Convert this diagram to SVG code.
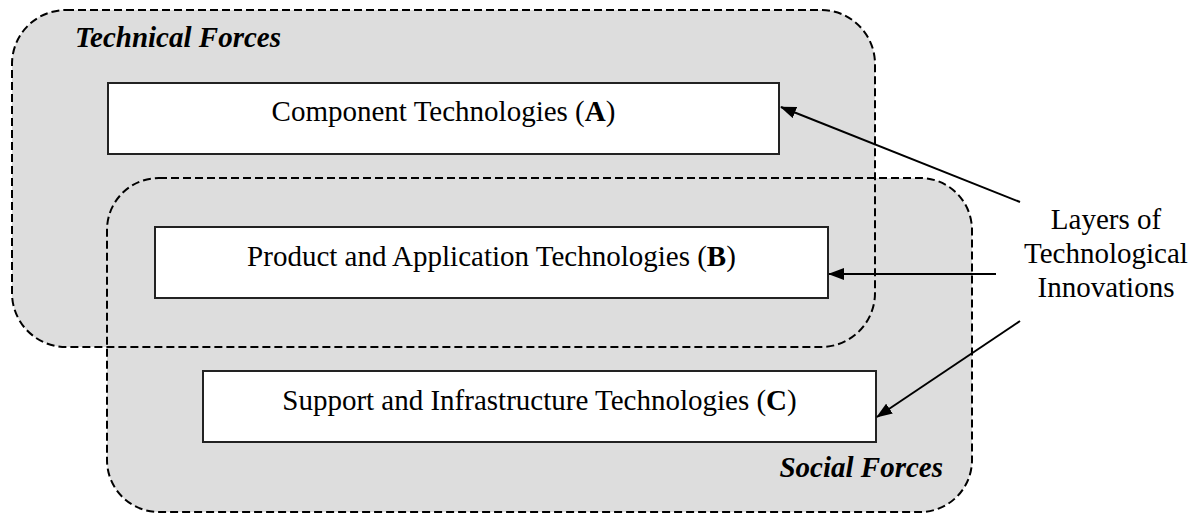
<svg xmlns="http://www.w3.org/2000/svg" width="1195" height="513" viewBox="0 0 1195 513">
<style>
.region{fill:#dddddd;stroke:none}
.border{fill:none;stroke:#000;stroke-width:2;stroke-dasharray:8 4}
.box{fill:#fff;stroke:#222;stroke-width:2}
.t{font-family:"Liberation Serif","Times New Roman",serif;font-size:29px;fill:#000}
.lbl{font-family:"Liberation Serif","Times New Roman",serif;font-size:29px;font-weight:bold;font-style:italic;fill:#000}
.conn{stroke:#000;stroke-width:2;fill:none}
</style>
<defs>
<marker id="ah" markerWidth="16" markerHeight="12" refX="15" refY="6" orient="auto" markerUnits="userSpaceOnUse">
<path d="M0,0 L16,6 L0,12 Z" fill="#000"/>
</marker>
</defs>
<g id="regions-fill">
<rect class="region" x="12" y="10" width="863" height="337" rx="54" ry="54"/>
<rect class="region" x="107" y="178" width="865" height="334" rx="52" ry="52"/>
</g>
<g id="technical-forces">
<rect class="border" x="12" y="10" width="863" height="337" rx="54" ry="54"/>
<text class="lbl" x="75" y="47">Technical Forces</text>
</g>
<g id="social-forces">
<rect class="border" x="107" y="178" width="865" height="334" rx="52" ry="52"/>
<text class="lbl" x="943" y="477" text-anchor="end">Social Forces</text>
</g>
<g id="node-a">
<rect class="box" x="108" y="83" width="671" height="71"/>
<text class="t" x="443.5" y="121" text-anchor="middle">Component Technologies (<tspan font-weight="bold">A</tspan>)</text>
</g>
<g id="node-b">
<rect class="box" x="155" y="227" width="673" height="71"/>
<text class="t" x="491.5" y="266" text-anchor="middle">Product and Application Technologies (<tspan font-weight="bold">B</tspan>)</text>
</g>
<g id="node-c">
<rect class="box" x="203" y="371" width="673" height="71"/>
<text class="t" x="539.5" y="410" text-anchor="middle">Support and Infrastructure Technologies (<tspan font-weight="bold">C</tspan>)</text>
</g>
<g id="layers-label">
<text class="t" text-anchor="middle"><tspan x="1106" y="229">Layers of</tspan><tspan x="1106" y="263">Technological</tspan><tspan x="1106" y="297">Innovations</tspan></text>
</g>
<g id="connectors">
<line class="conn" x1="1020" y1="202" x2="781" y2="107" marker-end="url(#ah)"/>
<line class="conn" x1="996" y1="274" x2="829" y2="274" marker-end="url(#ah)"/>
<line class="conn" x1="1020" y1="321" x2="877" y2="417" marker-end="url(#ah)"/>
</g>
</svg>
